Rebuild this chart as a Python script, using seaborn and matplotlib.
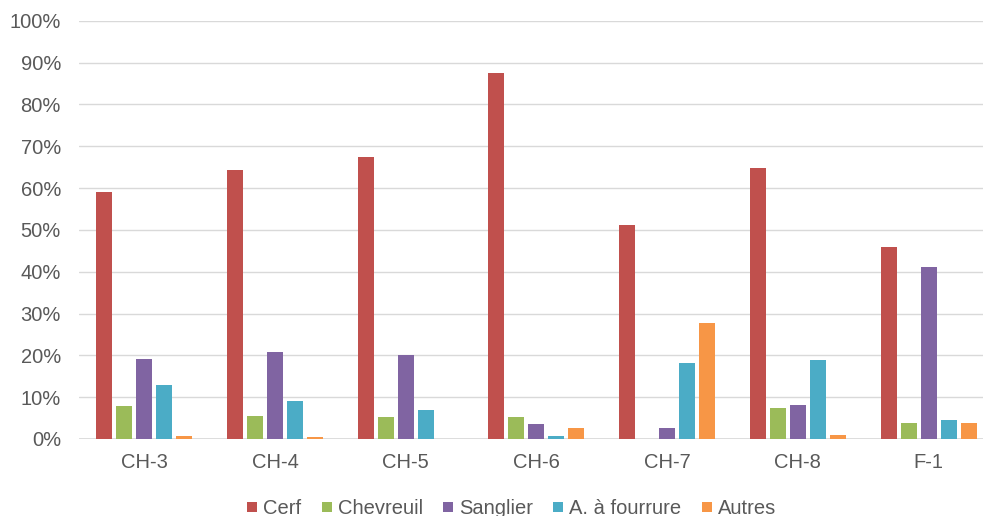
import matplotlib
matplotlib.use("Agg")
import matplotlib.pyplot as plt
from matplotlib.lines import Line2D
from matplotlib.ticker import FuncFormatter
import seaborn as sns
import pandas as pd

# Share of each game category per site (%)
sites = ["CH-3", "CH-4", "CH-5", "CH-6", "CH-7", "CH-8", "F-1"]
species = ["Cerf", "Chevreuil", "Sanglier", "A. à fourrure", "Autres"]
cerf = [59.1, 64.3, 67.5, 87.5, 51.1, 64.7, 45.8]
chevreuil = [7.9, 5.6, 5.3, 5.3, 0.0, 7.5, 3.9]
sanglier = [19.1, 20.8, 20.1, 3.6, 2.6, 8.1, 41.0]
fourrure = [13.0, 9.1, 6.9, 0.7, 18.1, 18.8, 4.5]
autres = [0.7, 0.4, 0.0, 2.6, 27.8, 0.9, 3.9]
colors = ["#C0504D", "#9BBB59", "#8064A2", "#4BACC6", "#F79646"]

series = [cerf, chevreuil, sanglier, fourrure, autres]
rows = []
for name, vals in zip(species, series):
    for site, v in zip(sites, vals):
        rows.append({"site": site, "espece": name, "valeur": v})
df = pd.DataFrame(rows)

sns.set_theme(style="white")
plt.rcParams["font.family"] = ["Liberation Sans", "DejaVu Sans"]
text_color = "#595959"
fs = 14.5

fig = plt.figure(figsize=(9.83, 5.16), dpi=100)
ax = fig.add_axes([79 / 983, 1 - 439 / 516, 904 / 983, (439 - 20.7) / 516])

sns.barplot(data=df, x="site", y="valeur", hue="espece", order=sites,
            hue_order=species, palette=colors, width=0.765, gap=0.2,
            linewidth=0, saturation=1, ax=ax, legend=True)

ax.set_ylim(0, 100)
ax.set_xlim(-0.5, 6.416)
ax.set_yticks(range(0, 101, 10))
ax.yaxis.set_major_formatter(FuncFormatter(lambda v, _: f"{v:.0f}%"))
ax.grid(axis="y", color="#D9D9D9", linewidth=1)
ax.set_axisbelow(True)
for s in ax.spines.values():
    s.set_visible(False)
ax.axhline(0, color="#D9D9D9", linewidth=1.2, zorder=0.5)
ax.set_xlabel("")
ax.set_ylabel("")
ax.tick_params(axis="y", length=0, pad=13, labelsize=fs, labelcolor=text_color)
ax.tick_params(axis="x", length=0, pad=10, labelsize=fs, labelcolor=text_color)

ax.get_legend().remove()
handles = [Line2D([0], [0], marker="s", linestyle="none", markersize=6.5,
                  markerfacecolor=c, markeredgewidth=0) for c in colors]
fig.legend(handles, species, loc="center", bbox_to_anchor=(512 / 983, 1 - 509 / 516),
           ncol=5, frameon=False, fontsize=fs, labelcolor=text_color,
           handlelength=0.4, handletextpad=0.35, columnspacing=1.05,
           borderaxespad=0, borderpad=0)

fig.savefig("out.png", dpi=100)
